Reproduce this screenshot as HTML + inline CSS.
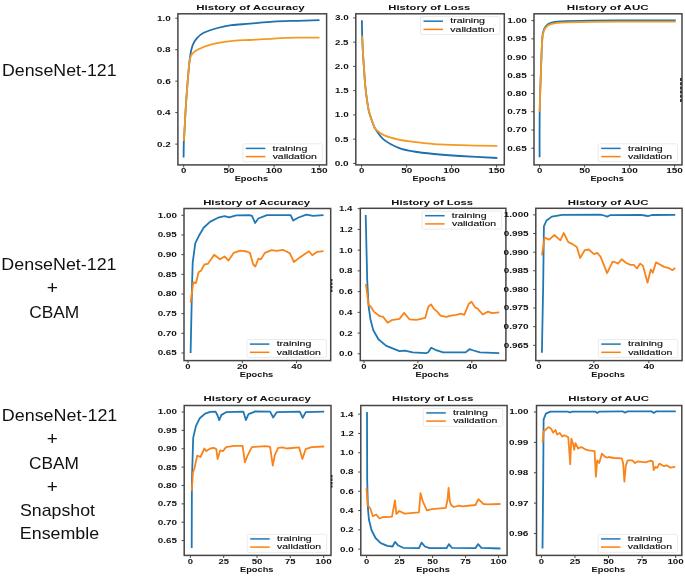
<!DOCTYPE html>
<html><head><meta charset="utf-8"><style>
html,body{margin:0;padding:0;background:#fff;}
svg{display:block;will-change:transform;}
#w{width:685px;height:577px;}
text{font-family:"Liberation Sans", sans-serif;}
</style></head><body><div id="w">
<svg width="685" height="577" viewBox="0 0 685 577">
<rect width="685" height="577" fill="#fff"/>
<clipPath id="c0"><rect x="177.9" y="13.8" width="148.70" height="151.10"/></clipPath>
<g clip-path="url(#c0)">
<path d="M183.60,157.50 C183.63,155.12 183.68,147.03 183.80,143.20 C183.92,139.37 184.02,139.70 184.30,134.50 C184.58,129.30 185.00,120.08 185.50,112.00 C186.00,103.92 186.57,95.03 187.30,86.00 C188.03,76.97 189.02,64.58 189.90,57.80 C190.78,51.02 191.45,48.55 192.60,45.30 C193.75,42.05 194.95,40.38 196.80,38.30 C198.65,36.22 200.23,34.52 203.70,32.80 C207.17,31.08 212.97,29.27 217.60,28.00 C222.23,26.73 226.10,25.92 231.50,25.20 C236.90,24.48 243.02,24.30 250.00,23.70 C256.98,23.10 265.62,22.08 273.40,21.60 C281.18,21.12 289.02,21.03 296.70,20.80 C304.38,20.57 315.70,20.30 319.50,20.20" fill="none" stroke="#1f70ac" stroke-width="1.8" stroke-linejoin="round" stroke-linecap="butt"/>
<path d="M183.80,141.00 C183.88,139.92 184.02,139.33 184.30,134.50 C184.58,129.67 185.00,120.08 185.50,112.00 C186.00,103.92 186.57,94.82 187.30,86.00 C188.03,77.18 188.78,64.73 189.90,59.10 C191.02,53.47 192.38,53.93 194.00,52.20 C195.62,50.47 196.82,49.97 199.60,48.70 C202.38,47.43 206.55,45.75 210.70,44.60 C214.85,43.45 219.88,42.50 224.50,41.80 C229.12,41.10 234.15,40.70 238.40,40.40 C242.65,40.10 244.17,40.30 250.00,40.00 C255.83,39.70 265.62,38.98 273.40,38.60 C281.18,38.22 289.02,37.85 296.70,37.70 C304.38,37.55 315.70,37.70 319.50,37.70" fill="none" stroke="#f49a22" stroke-width="1.8" stroke-linejoin="round" stroke-linecap="butt"/>
</g>
<rect x="177.90" y="13.80" width="148.70" height="151.10" fill="none" stroke="#464646" stroke-width="1.5"/>
<line x1="183.70" y1="164.90" x2="183.70" y2="167.50" stroke="#464646" stroke-width="1.0"/>
<text transform="translate(181.02,173.40) scale(1.4181,1)" font-size="6.8" font-weight="bold" fill="#111">0</text>
<line x1="228.90" y1="164.90" x2="228.90" y2="167.50" stroke="#464646" stroke-width="1.0"/>
<text transform="translate(223.48,173.40) scale(1.4493,1)" font-size="6.8" font-weight="bold" fill="#111">50</text>
<line x1="274.10" y1="164.90" x2="274.10" y2="167.50" stroke="#464646" stroke-width="1.0"/>
<text transform="translate(265.63,173.40) scale(1.4787,1)" font-size="6.8" font-weight="bold" fill="#111">100</text>
<line x1="319.30" y1="164.90" x2="319.30" y2="167.50" stroke="#464646" stroke-width="1.0"/>
<text transform="translate(310.83,173.40) scale(1.4787,1)" font-size="6.8" font-weight="bold" fill="#111">150</text>
<line x1="175.30" y1="144.10" x2="177.90" y2="144.10" stroke="#464646" stroke-width="1.0"/>
<text transform="translate(157.08,146.55) scale(1.4509,1)" font-size="6.8" font-weight="bold" fill="#111">0.2</text>
<line x1="175.30" y1="112.62" x2="177.90" y2="112.62" stroke="#464646" stroke-width="1.0"/>
<text transform="translate(156.67,115.08) scale(1.4578,1)" font-size="6.8" font-weight="bold" fill="#111">0.4</text>
<line x1="175.30" y1="81.15" x2="177.90" y2="81.15" stroke="#464646" stroke-width="1.0"/>
<text transform="translate(156.71,83.60) scale(1.4860,1)" font-size="6.8" font-weight="bold" fill="#111">0.6</text>
<line x1="175.30" y1="49.67" x2="177.90" y2="49.67" stroke="#464646" stroke-width="1.0"/>
<text transform="translate(156.76,52.12) scale(1.4753,1)" font-size="6.8" font-weight="bold" fill="#111">0.8</text>
<line x1="175.30" y1="18.20" x2="177.90" y2="18.20" stroke="#464646" stroke-width="1.0"/>
<text transform="translate(156.97,20.65) scale(1.4631,1)" font-size="6.8" font-weight="bold" fill="#111">1.0</text>
<text transform="translate(196.25,9.70) scale(1.6712,1)" font-size="6.9" font-weight="bold" fill="#111">History of Accuracy</text>
<text transform="translate(234.65,181.00) scale(1.4533,1)" font-size="6.4" font-weight="bold" fill="#111">Epochs</text>
<rect x="242.80" y="143.80" width="79.5" height="18.0" rx="1.5" fill="#fff" fill-opacity="0.8" stroke="#e6e6e6" stroke-width="0.8"/>
<line x1="245.80" y1="148.40" x2="265.30" y2="148.40" stroke="#1f77b4" stroke-width="1.5"/>
<line x1="245.80" y1="156.60" x2="265.30" y2="156.60" stroke="#ff7f0e" stroke-width="1.5"/>
<text transform="translate(272.54,150.60) scale(1.6554,1)" font-size="6.4" font-weight="normal" fill="#111" stroke="#111" stroke-width="0.121">training</text>
<text transform="translate(272.65,158.80) scale(1.6331,1)" font-size="6.4" font-weight="normal" fill="#111" stroke="#111" stroke-width="0.122">validation</text>
<clipPath id="c1"><rect x="355.8" y="13.8" width="148.50" height="151.10"/></clipPath>
<g clip-path="url(#c1)">
<path d="M361.90,20.30 C361.95,22.92 362.02,30.45 362.20,36.00 C362.38,41.55 362.63,47.20 363.00,53.60 C363.37,60.00 364.03,69.17 364.40,74.40 C364.77,79.63 364.82,81.08 365.20,85.00 C365.58,88.92 366.08,93.52 366.70,97.90 C367.32,102.28 367.78,106.83 368.90,111.30 C370.02,115.77 372.28,121.72 373.40,124.70 C374.52,127.68 373.87,126.72 375.60,129.20 C377.33,131.68 379.95,136.50 383.80,139.60 C387.65,142.70 393.73,145.82 398.70,147.80 C403.67,149.78 407.72,150.47 413.60,151.50 C419.48,152.53 426.27,153.25 434.00,154.00 C441.73,154.75 449.45,155.33 460.00,156.00 C470.55,156.67 491.08,157.67 497.30,158.00" fill="none" stroke="#1f70ac" stroke-width="1.8" stroke-linejoin="round" stroke-linecap="butt"/>
<path d="M361.90,35.60 C361.95,36.00 362.02,35.00 362.20,38.00 C362.38,41.00 362.63,47.53 363.00,53.60 C363.37,59.67 364.03,69.17 364.40,74.40 C364.77,79.63 364.82,81.08 365.20,85.00 C365.58,88.92 366.08,93.52 366.70,97.90 C367.32,102.28 367.78,106.83 368.90,111.30 C370.02,115.77 372.28,121.72 373.40,124.70 C374.52,127.68 373.87,127.47 375.60,129.20 C377.33,130.93 379.95,133.37 383.80,135.10 C387.65,136.83 393.73,138.48 398.70,139.60 C403.67,140.72 407.72,141.05 413.60,141.80 C419.48,142.55 426.27,143.53 434.00,144.10 C441.73,144.67 449.45,144.90 460.00,145.20 C470.55,145.50 491.08,145.78 497.30,145.90" fill="none" stroke="#f49a22" stroke-width="1.8" stroke-linejoin="round" stroke-linecap="butt"/>
</g>
<rect x="355.80" y="13.80" width="148.50" height="151.10" fill="none" stroke="#464646" stroke-width="1.5"/>
<line x1="361.60" y1="164.90" x2="361.60" y2="167.50" stroke="#464646" stroke-width="1.0"/>
<text transform="translate(358.92,173.40) scale(1.4181,1)" font-size="6.8" font-weight="bold" fill="#111">0</text>
<line x1="406.60" y1="164.90" x2="406.60" y2="167.50" stroke="#464646" stroke-width="1.0"/>
<text transform="translate(401.18,173.40) scale(1.4493,1)" font-size="6.8" font-weight="bold" fill="#111">50</text>
<line x1="451.60" y1="164.90" x2="451.60" y2="167.50" stroke="#464646" stroke-width="1.0"/>
<text transform="translate(443.13,173.40) scale(1.4787,1)" font-size="6.8" font-weight="bold" fill="#111">100</text>
<line x1="496.60" y1="164.90" x2="496.60" y2="167.50" stroke="#464646" stroke-width="1.0"/>
<text transform="translate(488.13,173.40) scale(1.4787,1)" font-size="6.8" font-weight="bold" fill="#111">150</text>
<line x1="353.20" y1="163.40" x2="355.80" y2="163.40" stroke="#464646" stroke-width="1.0"/>
<text transform="translate(334.65,165.85) scale(1.4866,1)" font-size="6.8" font-weight="bold" fill="#111">0.0</text>
<line x1="353.20" y1="139.15" x2="355.80" y2="139.15" stroke="#464646" stroke-width="1.0"/>
<text transform="translate(334.84,141.60) scale(1.4496,1)" font-size="6.8" font-weight="bold" fill="#111">0.5</text>
<line x1="353.20" y1="114.90" x2="355.80" y2="114.90" stroke="#464646" stroke-width="1.0"/>
<text transform="translate(334.87,117.35) scale(1.4631,1)" font-size="6.8" font-weight="bold" fill="#111">1.0</text>
<line x1="353.20" y1="90.65" x2="355.80" y2="90.65" stroke="#464646" stroke-width="1.0"/>
<text transform="translate(335.07,93.10) scale(1.4258,1)" font-size="6.8" font-weight="bold" fill="#111">1.5</text>
<line x1="353.20" y1="66.40" x2="355.80" y2="66.40" stroke="#464646" stroke-width="1.0"/>
<text transform="translate(334.80,68.85) scale(1.4708,1)" font-size="6.8" font-weight="bold" fill="#111">2.0</text>
<line x1="353.20" y1="42.15" x2="355.80" y2="42.15" stroke="#464646" stroke-width="1.0"/>
<text transform="translate(334.99,44.60) scale(1.4341,1)" font-size="6.8" font-weight="bold" fill="#111">2.5</text>
<line x1="353.20" y1="17.90" x2="355.80" y2="17.90" stroke="#464646" stroke-width="1.0"/>
<text transform="translate(334.90,20.35) scale(1.4597,1)" font-size="6.8" font-weight="bold" fill="#111">3.0</text>
<text transform="translate(388.37,9.70) scale(1.6301,1)" font-size="6.9" font-weight="bold" fill="#111">History of Loss</text>
<text transform="translate(412.45,181.00) scale(1.4533,1)" font-size="6.4" font-weight="bold" fill="#111">Epochs</text>
<rect x="420.50" y="16.60" width="79.5" height="18.0" rx="1.5" fill="#fff" fill-opacity="0.8" stroke="#e6e6e6" stroke-width="0.8"/>
<line x1="423.50" y1="21.20" x2="443.00" y2="21.20" stroke="#1f77b4" stroke-width="1.5"/>
<line x1="423.50" y1="29.40" x2="443.00" y2="29.40" stroke="#ff7f0e" stroke-width="1.5"/>
<text transform="translate(450.24,23.40) scale(1.6554,1)" font-size="6.4" font-weight="normal" fill="#111" stroke="#111" stroke-width="0.121">training</text>
<text transform="translate(450.35,31.60) scale(1.6331,1)" font-size="6.4" font-weight="normal" fill="#111" stroke="#111" stroke-width="0.122">validation</text>
<clipPath id="c2"><rect x="534.0" y="13.8" width="148.00" height="151.10"/></clipPath>
<g clip-path="url(#c2)">
<path d="M539.60,157.30 C539.62,149.75 539.48,126.22 539.70,112.00 C539.92,97.78 540.52,83.47 540.90,72.00 C541.28,60.53 541.65,49.73 542.00,43.20 C542.35,36.67 542.40,35.57 543.00,32.80 C543.60,30.03 544.30,28.25 545.60,26.60 C546.90,24.95 548.20,23.77 550.80,22.90 C553.40,22.03 554.67,21.78 561.20,21.40 C567.73,21.02 576.87,20.77 590.00,20.60 C603.13,20.43 625.72,20.45 640.00,20.40 C654.28,20.35 669.75,20.32 675.70,20.30" fill="none" stroke="#1f70ac" stroke-width="1.8" stroke-linejoin="round" stroke-linecap="butt"/>
<path d="M539.60,111.80 C539.82,105.25 540.50,83.80 540.90,72.50 C541.30,61.20 541.65,50.42 542.00,44.00 C542.35,37.58 542.40,36.70 543.00,34.00 C543.60,31.30 544.30,29.43 545.60,27.80 C546.90,26.17 548.20,25.07 550.80,24.20 C553.40,23.33 554.67,23.00 561.20,22.60 C567.73,22.20 576.87,21.95 590.00,21.80 C603.13,21.65 625.72,21.72 640.00,21.70 C654.28,21.68 669.75,21.70 675.70,21.70" fill="none" stroke="#f49a22" stroke-width="1.8" stroke-linejoin="round" stroke-linecap="butt"/>
</g>
<rect x="534.00" y="13.80" width="148.00" height="151.10" fill="none" stroke="#464646" stroke-width="1.5"/>
<line x1="539.60" y1="164.90" x2="539.60" y2="167.50" stroke="#464646" stroke-width="1.0"/>
<text transform="translate(536.92,173.40) scale(1.4181,1)" font-size="6.8" font-weight="bold" fill="#111">0</text>
<line x1="584.60" y1="164.90" x2="584.60" y2="167.50" stroke="#464646" stroke-width="1.0"/>
<text transform="translate(579.18,173.40) scale(1.4493,1)" font-size="6.8" font-weight="bold" fill="#111">50</text>
<line x1="629.60" y1="164.90" x2="629.60" y2="167.50" stroke="#464646" stroke-width="1.0"/>
<text transform="translate(621.13,173.40) scale(1.4787,1)" font-size="6.8" font-weight="bold" fill="#111">100</text>
<line x1="674.60" y1="164.90" x2="674.60" y2="167.50" stroke="#464646" stroke-width="1.0"/>
<text transform="translate(666.13,173.40) scale(1.4787,1)" font-size="6.8" font-weight="bold" fill="#111">150</text>
<line x1="531.40" y1="148.20" x2="534.00" y2="148.20" stroke="#464646" stroke-width="1.0"/>
<text transform="translate(507.28,150.65) scale(1.4722,1)" font-size="6.8" font-weight="bold" fill="#111">0.65</text>
<line x1="531.40" y1="129.97" x2="534.00" y2="129.97" stroke="#464646" stroke-width="1.0"/>
<text transform="translate(507.09,132.42) scale(1.4983,1)" font-size="6.8" font-weight="bold" fill="#111">0.70</text>
<line x1="531.40" y1="111.74" x2="534.00" y2="111.74" stroke="#464646" stroke-width="1.0"/>
<text transform="translate(507.28,114.19) scale(1.4722,1)" font-size="6.8" font-weight="bold" fill="#111">0.75</text>
<line x1="531.40" y1="93.51" x2="534.00" y2="93.51" stroke="#464646" stroke-width="1.0"/>
<text transform="translate(507.09,95.96) scale(1.4983,1)" font-size="6.8" font-weight="bold" fill="#111">0.80</text>
<line x1="531.40" y1="75.28" x2="534.00" y2="75.28" stroke="#464646" stroke-width="1.0"/>
<text transform="translate(507.28,77.73) scale(1.4722,1)" font-size="6.8" font-weight="bold" fill="#111">0.85</text>
<line x1="531.40" y1="57.05" x2="534.00" y2="57.05" stroke="#464646" stroke-width="1.0"/>
<text transform="translate(507.09,59.50) scale(1.4983,1)" font-size="6.8" font-weight="bold" fill="#111">0.90</text>
<line x1="531.40" y1="38.83" x2="534.00" y2="38.83" stroke="#464646" stroke-width="1.0"/>
<text transform="translate(507.28,41.28) scale(1.4722,1)" font-size="6.8" font-weight="bold" fill="#111">0.95</text>
<line x1="531.40" y1="20.60" x2="534.00" y2="20.60" stroke="#464646" stroke-width="1.0"/>
<text transform="translate(507.30,23.05) scale(1.4820,1)" font-size="6.8" font-weight="bold" fill="#111">1.00</text>
<text transform="translate(566.85,9.70) scale(1.6756,1)" font-size="6.9" font-weight="bold" fill="#111">History of AUC</text>
<text transform="translate(590.40,181.00) scale(1.4533,1)" font-size="6.4" font-weight="bold" fill="#111">Epochs</text>
<rect x="598.20" y="143.80" width="79.5" height="18.0" rx="1.5" fill="#fff" fill-opacity="0.8" stroke="#e6e6e6" stroke-width="0.8"/>
<line x1="601.20" y1="148.40" x2="620.70" y2="148.40" stroke="#1f77b4" stroke-width="1.5"/>
<line x1="601.20" y1="156.60" x2="620.70" y2="156.60" stroke="#ff7f0e" stroke-width="1.5"/>
<text transform="translate(627.94,150.60) scale(1.6554,1)" font-size="6.4" font-weight="normal" fill="#111" stroke="#111" stroke-width="0.121">training</text>
<text transform="translate(628.05,158.80) scale(1.6331,1)" font-size="6.4" font-weight="normal" fill="#111" stroke="#111" stroke-width="0.122">validation</text>
<clipPath id="c3"><rect x="184.0" y="208.5" width="146.70" height="152.10"/></clipPath>
<g clip-path="url(#c3)">
<path d="M190.60,353.00 L192.10,283.00 L192.70,262.60 L195.30,243.10 L199.20,235.30 L203.80,227.50 L210.30,221.60 L218.10,217.70 L224.60,216.10 L229.10,217.40 L236.30,215.40 L249.30,215.10 L252.00,215.80 L255.10,223.00 L258.30,218.50 L266.90,215.20 L290.60,215.20 L293.20,220.50 L298.50,217.50 L306.40,214.60 L313.00,215.90 L323.50,215.20" fill="none" stroke="#1f77b4" stroke-width="1.8" stroke-linejoin="round" stroke-linecap="butt"/>
<path d="M190.60,302.70 L193.30,282.50 L196.00,283.00 L198.60,272.30 L201.20,270.40 L204.40,264.50 L207.70,263.90 L214.20,254.80 L220.00,259.30 L224.60,256.40 L228.50,260.60 L233.70,252.80 L240.20,250.60 L246.70,251.50 L249.90,252.80 L253.20,264.50 L255.40,266.50 L258.30,258.70 L260.90,259.40 L264.90,252.80 L271.50,250.10 L276.70,250.80 L282.70,249.90 L286.60,251.50 L289.90,253.40 L293.90,262.00 L299.80,257.40 L309.00,251.20 L312.30,255.20 L316.90,251.90 L323.50,251.20" fill="none" stroke="#f8841a" stroke-width="1.8" stroke-linejoin="round" stroke-linecap="butt"/>
</g>
<rect x="184.00" y="208.50" width="146.70" height="152.10" fill="none" stroke="#464646" stroke-width="1.5"/>
<line x1="188.00" y1="360.60" x2="188.00" y2="363.20" stroke="#464646" stroke-width="1.0"/>
<text transform="translate(185.37,369.10) scale(1.3915,1)" font-size="6.8" font-weight="bold" fill="#111">0</text>
<line x1="242.30" y1="360.60" x2="242.30" y2="363.20" stroke="#464646" stroke-width="1.0"/>
<text transform="translate(236.93,369.10) scale(1.4290,1)" font-size="6.8" font-weight="bold" fill="#111">20</text>
<line x1="296.60" y1="360.60" x2="296.60" y2="363.20" stroke="#464646" stroke-width="1.0"/>
<text transform="translate(291.31,369.10) scale(1.4329,1)" font-size="6.8" font-weight="bold" fill="#111">40</text>
<line x1="181.40" y1="353.00" x2="184.00" y2="353.00" stroke="#464646" stroke-width="1.0"/>
<text transform="translate(157.64,355.45) scale(1.4446,1)" font-size="6.8" font-weight="bold" fill="#111">0.65</text>
<line x1="181.40" y1="333.33" x2="184.00" y2="333.33" stroke="#464646" stroke-width="1.0"/>
<text transform="translate(157.45,335.78) scale(1.4702,1)" font-size="6.8" font-weight="bold" fill="#111">0.70</text>
<line x1="181.40" y1="313.66" x2="184.00" y2="313.66" stroke="#464646" stroke-width="1.0"/>
<text transform="translate(157.64,316.11) scale(1.4446,1)" font-size="6.8" font-weight="bold" fill="#111">0.75</text>
<line x1="181.40" y1="293.99" x2="184.00" y2="293.99" stroke="#464646" stroke-width="1.0"/>
<text transform="translate(157.45,296.44) scale(1.4702,1)" font-size="6.8" font-weight="bold" fill="#111">0.80</text>
<line x1="181.40" y1="274.32" x2="184.00" y2="274.32" stroke="#464646" stroke-width="1.0"/>
<text transform="translate(157.64,276.77) scale(1.4446,1)" font-size="6.8" font-weight="bold" fill="#111">0.85</text>
<line x1="181.40" y1="254.65" x2="184.00" y2="254.65" stroke="#464646" stroke-width="1.0"/>
<text transform="translate(157.45,257.10) scale(1.4702,1)" font-size="6.8" font-weight="bold" fill="#111">0.90</text>
<line x1="181.40" y1="234.97" x2="184.00" y2="234.97" stroke="#464646" stroke-width="1.0"/>
<text transform="translate(157.64,237.42) scale(1.4446,1)" font-size="6.8" font-weight="bold" fill="#111">0.95</text>
<line x1="181.40" y1="215.30" x2="184.00" y2="215.30" stroke="#464646" stroke-width="1.0"/>
<text transform="translate(157.66,217.75) scale(1.4542,1)" font-size="6.8" font-weight="bold" fill="#111">1.00</text>
<text transform="translate(203.16,204.70) scale(1.4781,1)" font-size="7.7" font-weight="bold" fill="#111">History of Accuracy</text>
<text transform="translate(239.75,376.70) scale(1.4533,1)" font-size="6.4" font-weight="bold" fill="#111">Epochs</text>
<rect x="246.90" y="339.50" width="79.5" height="18.0" rx="1.5" fill="#fff" fill-opacity="0.8" stroke="#e6e6e6" stroke-width="0.8"/>
<line x1="249.90" y1="344.10" x2="269.40" y2="344.10" stroke="#1f77b4" stroke-width="1.5"/>
<line x1="249.90" y1="352.30" x2="269.40" y2="352.30" stroke="#ff7f0e" stroke-width="1.5"/>
<text transform="translate(276.64,346.30) scale(1.6554,1)" font-size="6.4" font-weight="normal" fill="#111" stroke="#111" stroke-width="0.121">training</text>
<text transform="translate(276.75,354.50) scale(1.6331,1)" font-size="6.4" font-weight="normal" fill="#111" stroke="#111" stroke-width="0.122">validation</text>
<clipPath id="c4"><rect x="360.3" y="208.3" width="145.60" height="152.30"/></clipPath>
<g clip-path="url(#c4)">
<path d="M365.70,215.00 L367.20,280.00 L368.60,306.30 L370.50,319.50 L373.20,330.00 L378.40,339.30 L386.30,345.90 L399.50,351.10 L404.80,350.70 L412.70,352.40 L425.90,353.10 L428.00,352.50 L431.20,347.80 L435.30,349.80 L443.20,352.40 L465.60,352.40 L469.50,349.20 L473.50,350.50 L480.00,352.40 L499.20,353.10" fill="none" stroke="#1f77b4" stroke-width="1.8" stroke-linejoin="round" stroke-linecap="butt"/>
<path d="M365.90,284.00 L368.60,305.00 L370.50,306.30 L373.80,311.60 L379.80,316.20 L383.10,316.90 L387.70,322.80 L391.60,320.20 L399.50,318.90 L404.10,312.90 L409.40,319.30 L416.60,319.80 L425.20,317.90 L428.50,306.30 L431.10,304.40 L434.00,309.00 L437.20,311.60 L440.50,315.60 L446.50,316.90 L451.10,315.60 L456.30,314.90 L461.00,313.60 L464.20,314.90 L468.90,303.70 L471.50,301.70 L475.40,307.70 L477.40,308.30 L482.70,314.50 L488.00,311.60 L491.90,313.20 L499.20,312.30" fill="none" stroke="#f8841a" stroke-width="1.8" stroke-linejoin="round" stroke-linecap="butt"/>
</g>
<rect x="360.30" y="208.30" width="145.60" height="152.30" fill="none" stroke="#464646" stroke-width="1.5"/>
<line x1="364.00" y1="360.60" x2="364.00" y2="363.20" stroke="#464646" stroke-width="1.0"/>
<text transform="translate(361.37,369.10) scale(1.3915,1)" font-size="6.8" font-weight="bold" fill="#111">0</text>
<line x1="417.90" y1="360.60" x2="417.90" y2="363.20" stroke="#464646" stroke-width="1.0"/>
<text transform="translate(412.53,369.10) scale(1.4290,1)" font-size="6.8" font-weight="bold" fill="#111">20</text>
<line x1="471.80" y1="360.60" x2="471.80" y2="363.20" stroke="#464646" stroke-width="1.0"/>
<text transform="translate(466.51,369.10) scale(1.4329,1)" font-size="6.8" font-weight="bold" fill="#111">40</text>
<line x1="357.70" y1="353.80" x2="360.30" y2="353.80" stroke="#464646" stroke-width="1.0"/>
<text transform="translate(338.91,356.25) scale(1.4587,1)" font-size="6.8" font-weight="bold" fill="#111">0.0</text>
<line x1="357.70" y1="333.07" x2="360.30" y2="333.07" stroke="#464646" stroke-width="1.0"/>
<text transform="translate(339.23,335.52) scale(1.4237,1)" font-size="6.8" font-weight="bold" fill="#111">0.2</text>
<line x1="357.70" y1="312.34" x2="360.30" y2="312.34" stroke="#464646" stroke-width="1.0"/>
<text transform="translate(338.83,314.79) scale(1.4305,1)" font-size="6.8" font-weight="bold" fill="#111">0.4</text>
<line x1="357.70" y1="291.61" x2="360.30" y2="291.61" stroke="#464646" stroke-width="1.0"/>
<text transform="translate(338.86,294.06) scale(1.4581,1)" font-size="6.8" font-weight="bold" fill="#111">0.6</text>
<line x1="357.70" y1="270.88" x2="360.30" y2="270.88" stroke="#464646" stroke-width="1.0"/>
<text transform="translate(338.91,273.33) scale(1.4476,1)" font-size="6.8" font-weight="bold" fill="#111">0.8</text>
<line x1="357.70" y1="250.16" x2="360.30" y2="250.16" stroke="#464646" stroke-width="1.0"/>
<text transform="translate(339.12,252.61) scale(1.4356,1)" font-size="6.8" font-weight="bold" fill="#111">1.0</text>
<line x1="357.70" y1="229.43" x2="360.30" y2="229.43" stroke="#464646" stroke-width="1.0"/>
<text transform="translate(339.45,231.88) scale(1.4001,1)" font-size="6.8" font-weight="bold" fill="#111">1.2</text>
<line x1="357.70" y1="208.70" x2="360.30" y2="208.70" stroke="#464646" stroke-width="1.0"/>
<text transform="translate(339.04,211.15) scale(1.4076,1)" font-size="6.8" font-weight="bold" fill="#111">1.4</text>
<text transform="translate(391.27,204.70) scale(1.4607,1)" font-size="7.7" font-weight="bold" fill="#111">History of Loss</text>
<text transform="translate(415.50,376.70) scale(1.4533,1)" font-size="6.4" font-weight="bold" fill="#111">Epochs</text>
<rect x="422.10" y="211.10" width="79.5" height="18.0" rx="1.5" fill="#fff" fill-opacity="0.8" stroke="#e6e6e6" stroke-width="0.8"/>
<line x1="425.10" y1="215.70" x2="444.60" y2="215.70" stroke="#1f77b4" stroke-width="1.5"/>
<line x1="425.10" y1="223.90" x2="444.60" y2="223.90" stroke="#ff7f0e" stroke-width="1.5"/>
<text transform="translate(451.84,217.90) scale(1.6554,1)" font-size="6.4" font-weight="normal" fill="#111" stroke="#111" stroke-width="0.121">training</text>
<text transform="translate(451.95,226.10) scale(1.6331,1)" font-size="6.4" font-weight="normal" fill="#111" stroke="#111" stroke-width="0.122">validation</text>
<clipPath id="c5"><rect x="535.8" y="208.3" width="146.30" height="152.30"/></clipPath>
<g clip-path="url(#c5)">
<path d="M541.90,352.80 L543.20,284.00 L543.90,226.40 L546.50,220.50 L551.80,216.60 L562.30,214.80 L600.50,214.60 L604.00,215.50 L607.10,216.60 L610.00,215.20 L640.00,214.80 L645.00,215.50 L648.00,216.20 L652.00,215.00 L675.20,214.80" fill="none" stroke="#1f77b4" stroke-width="1.8" stroke-linejoin="round" stroke-linecap="butt"/>
<path d="M541.90,255.40 L544.60,237.60 L549.20,239.60 L554.40,235.00 L560.40,240.30 L563.70,233.00 L568.30,242.20 L571.60,243.60 L576.80,246.90 L580.10,258.00 L584.70,250.20 L588.70,249.50 L594.00,254.10 L597.20,252.80 L600.50,256.70 L607.10,273.20 L612.60,261.60 L615.20,262.30 L617.90,263.60 L621.80,259.20 L625.80,262.70 L630.40,264.90 L633.70,264.90 L637.00,268.50 L640.20,263.60 L642.90,265.60 L647.50,282.70 L650.80,269.50 L652.80,272.80 L656.00,262.30 L664.00,266.90 L669.20,268.20 L672.50,270.20 L675.20,267.90" fill="none" stroke="#f8841a" stroke-width="1.8" stroke-linejoin="round" stroke-linecap="butt"/>
</g>
<rect x="535.80" y="208.30" width="146.30" height="152.30" fill="none" stroke="#464646" stroke-width="1.5"/>
<line x1="539.00" y1="360.60" x2="539.00" y2="363.20" stroke="#464646" stroke-width="1.0"/>
<text transform="translate(536.37,369.10) scale(1.3915,1)" font-size="6.8" font-weight="bold" fill="#111">0</text>
<line x1="593.90" y1="360.60" x2="593.90" y2="363.20" stroke="#464646" stroke-width="1.0"/>
<text transform="translate(588.53,369.10) scale(1.4290,1)" font-size="6.8" font-weight="bold" fill="#111">20</text>
<line x1="648.80" y1="360.60" x2="648.80" y2="363.20" stroke="#464646" stroke-width="1.0"/>
<text transform="translate(643.51,369.10) scale(1.4329,1)" font-size="6.8" font-weight="bold" fill="#111">40</text>
<line x1="533.20" y1="345.30" x2="535.80" y2="345.30" stroke="#464646" stroke-width="1.0"/>
<text transform="translate(503.78,347.75) scale(1.4566,1)" font-size="6.8" font-weight="bold" fill="#111">0.965</text>
<line x1="533.20" y1="326.67" x2="535.80" y2="326.67" stroke="#464646" stroke-width="1.0"/>
<text transform="translate(503.60,329.12) scale(1.4765,1)" font-size="6.8" font-weight="bold" fill="#111">0.970</text>
<line x1="533.20" y1="308.04" x2="535.80" y2="308.04" stroke="#464646" stroke-width="1.0"/>
<text transform="translate(503.78,310.49) scale(1.4566,1)" font-size="6.8" font-weight="bold" fill="#111">0.975</text>
<line x1="533.20" y1="289.41" x2="535.80" y2="289.41" stroke="#464646" stroke-width="1.0"/>
<text transform="translate(503.60,291.86) scale(1.4765,1)" font-size="6.8" font-weight="bold" fill="#111">0.980</text>
<line x1="533.20" y1="270.78" x2="535.80" y2="270.78" stroke="#464646" stroke-width="1.0"/>
<text transform="translate(503.78,273.23) scale(1.4566,1)" font-size="6.8" font-weight="bold" fill="#111">0.985</text>
<line x1="533.20" y1="252.16" x2="535.80" y2="252.16" stroke="#464646" stroke-width="1.0"/>
<text transform="translate(503.60,254.60) scale(1.4765,1)" font-size="6.8" font-weight="bold" fill="#111">0.990</text>
<line x1="533.20" y1="233.53" x2="535.80" y2="233.53" stroke="#464646" stroke-width="1.0"/>
<text transform="translate(503.78,235.98) scale(1.4566,1)" font-size="6.8" font-weight="bold" fill="#111">0.995</text>
<line x1="533.20" y1="214.90" x2="535.80" y2="214.90" stroke="#464646" stroke-width="1.0"/>
<text transform="translate(503.81,217.35) scale(1.4642,1)" font-size="6.8" font-weight="bold" fill="#111">1.000</text>
<text transform="translate(567.76,204.70) scale(1.4848,1)" font-size="7.7" font-weight="bold" fill="#111">History of AUC</text>
<text transform="translate(591.35,376.70) scale(1.4533,1)" font-size="6.4" font-weight="bold" fill="#111">Epochs</text>
<rect x="598.30" y="339.50" width="79.5" height="18.0" rx="1.5" fill="#fff" fill-opacity="0.8" stroke="#e6e6e6" stroke-width="0.8"/>
<line x1="601.30" y1="344.10" x2="620.80" y2="344.10" stroke="#1f77b4" stroke-width="1.5"/>
<line x1="601.30" y1="352.30" x2="620.80" y2="352.30" stroke="#ff7f0e" stroke-width="1.5"/>
<text transform="translate(628.04,346.30) scale(1.6554,1)" font-size="6.4" font-weight="normal" fill="#111" stroke="#111" stroke-width="0.121">training</text>
<text transform="translate(628.15,354.50) scale(1.6331,1)" font-size="6.4" font-weight="normal" fill="#111" stroke="#111" stroke-width="0.122">validation</text>
<clipPath id="c6"><rect x="184.2" y="405.5" width="146.80" height="149.90"/></clipPath>
<g clip-path="url(#c6)">
<path d="M191.70,548.00 L191.90,481.00 L193.20,437.90 L195.90,426.10 L199.80,418.20 L205.10,413.60 L210.30,411.80 L215.60,411.60 L217.60,415.50 L219.20,420.10 L221.50,414.90 L226.10,412.20 L243.30,411.60 L245.90,420.10 L248.50,414.20 L253.80,412.20 L255.00,411.30 L270.10,411.60 L273.20,417.50 L276.70,412.20 L299.80,411.60 L302.70,417.90 L305.70,412.20 L324.20,411.60" fill="none" stroke="#1f77b4" stroke-width="1.8" stroke-linejoin="round" stroke-linecap="butt"/>
<path d="M191.70,491.00 L193.00,472.20 L194.50,468.20 L197.20,455.70 L200.50,457.00 L204.40,448.50 L206.40,451.10 L210.30,448.50 L213.60,447.80 L216.30,449.10 L217.60,459.00 L220.20,450.40 L222.90,451.10 L226.10,447.10 L234.00,445.80 L242.60,445.80 L244.90,462.30 L247.20,456.40 L251.80,447.10 L255.00,446.90 L265.50,446.10 L270.10,446.90 L272.80,465.60 L274.80,455.00 L278.10,447.80 L282.70,447.40 L286.60,448.50 L299.10,447.40 L302.40,459.00 L305.70,449.10 L311.60,447.10 L324.20,446.50" fill="none" stroke="#f8841a" stroke-width="1.8" stroke-linejoin="round" stroke-linecap="butt"/>
</g>
<rect x="184.20" y="405.50" width="146.80" height="149.90" fill="none" stroke="#464646" stroke-width="1.5"/>
<line x1="190.40" y1="555.40" x2="190.40" y2="558.00" stroke="#464646" stroke-width="1.0"/>
<text transform="translate(187.77,563.90) scale(1.3915,1)" font-size="6.8" font-weight="bold" fill="#111">0</text>
<line x1="223.70" y1="555.40" x2="223.70" y2="558.00" stroke="#464646" stroke-width="1.0"/>
<text transform="translate(218.43,563.90) scale(1.3836,1)" font-size="6.8" font-weight="bold" fill="#111">25</text>
<line x1="257.00" y1="555.40" x2="257.00" y2="558.00" stroke="#464646" stroke-width="1.0"/>
<text transform="translate(251.68,563.90) scale(1.4221,1)" font-size="6.8" font-weight="bold" fill="#111">50</text>
<line x1="290.30" y1="555.40" x2="290.30" y2="558.00" stroke="#464646" stroke-width="1.0"/>
<text transform="translate(285.01,563.90) scale(1.3840,1)" font-size="6.8" font-weight="bold" fill="#111">75</text>
<line x1="323.60" y1="555.40" x2="323.60" y2="558.00" stroke="#464646" stroke-width="1.0"/>
<text transform="translate(315.29,563.90) scale(1.4510,1)" font-size="6.8" font-weight="bold" fill="#111">100</text>
<line x1="181.60" y1="540.60" x2="184.20" y2="540.60" stroke="#464646" stroke-width="1.0"/>
<text transform="translate(157.84,543.05) scale(1.4446,1)" font-size="6.8" font-weight="bold" fill="#111">0.65</text>
<line x1="181.60" y1="522.23" x2="184.20" y2="522.23" stroke="#464646" stroke-width="1.0"/>
<text transform="translate(157.65,524.68) scale(1.4702,1)" font-size="6.8" font-weight="bold" fill="#111">0.70</text>
<line x1="181.60" y1="503.86" x2="184.20" y2="503.86" stroke="#464646" stroke-width="1.0"/>
<text transform="translate(157.84,506.31) scale(1.4446,1)" font-size="6.8" font-weight="bold" fill="#111">0.75</text>
<line x1="181.60" y1="485.49" x2="184.20" y2="485.49" stroke="#464646" stroke-width="1.0"/>
<text transform="translate(157.65,487.94) scale(1.4702,1)" font-size="6.8" font-weight="bold" fill="#111">0.80</text>
<line x1="181.60" y1="467.12" x2="184.20" y2="467.12" stroke="#464646" stroke-width="1.0"/>
<text transform="translate(157.84,469.57) scale(1.4446,1)" font-size="6.8" font-weight="bold" fill="#111">0.85</text>
<line x1="181.60" y1="448.75" x2="184.20" y2="448.75" stroke="#464646" stroke-width="1.0"/>
<text transform="translate(157.65,451.19) scale(1.4702,1)" font-size="6.8" font-weight="bold" fill="#111">0.90</text>
<line x1="181.60" y1="430.37" x2="184.20" y2="430.37" stroke="#464646" stroke-width="1.0"/>
<text transform="translate(157.84,432.82) scale(1.4446,1)" font-size="6.8" font-weight="bold" fill="#111">0.95</text>
<line x1="181.60" y1="412.00" x2="184.20" y2="412.00" stroke="#464646" stroke-width="1.0"/>
<text transform="translate(157.86,414.45) scale(1.4542,1)" font-size="6.8" font-weight="bold" fill="#111">1.00</text>
<text transform="translate(203.56,401.30) scale(1.5032,1)" font-size="7.6" font-weight="bold" fill="#111">History of Accuracy</text>
<text transform="translate(240.00,571.50) scale(1.4533,1)" font-size="6.4" font-weight="bold" fill="#111">Epochs</text>
<rect x="247.20" y="534.30" width="79.5" height="18.0" rx="1.5" fill="#fff" fill-opacity="0.8" stroke="#e6e6e6" stroke-width="0.8"/>
<line x1="250.20" y1="538.90" x2="269.70" y2="538.90" stroke="#1f77b4" stroke-width="1.5"/>
<line x1="250.20" y1="547.10" x2="269.70" y2="547.10" stroke="#ff7f0e" stroke-width="1.5"/>
<text transform="translate(276.94,541.10) scale(1.6554,1)" font-size="6.4" font-weight="normal" fill="#111" stroke="#111" stroke-width="0.121">training</text>
<text transform="translate(277.05,549.30) scale(1.6331,1)" font-size="6.4" font-weight="normal" fill="#111" stroke="#111" stroke-width="0.122">validation</text>
<clipPath id="c7"><rect x="360.8" y="405.5" width="146.30" height="149.90"/></clipPath>
<g clip-path="url(#c7)">
<path d="M367.00,412.00 L367.20,480.00 L367.90,507.70 L368.90,519.50 L371.50,530.00 L375.50,538.00 L380.80,543.20 L387.30,545.90 L392.60,546.50 L395.00,541.90 L397.90,545.20 L403.10,547.80 L419.00,548.20 L421.60,542.60 L424.90,546.50 L429.50,548.20 L446.50,548.20 L448.90,544.10 L451.80,547.80 L475.50,548.20 L478.10,544.10 L481.40,547.80 L500.50,548.50" fill="none" stroke="#1f77b4" stroke-width="1.8" stroke-linejoin="round" stroke-linecap="butt"/>
<path d="M366.50,487.90 L367.60,505.00 L370.20,508.30 L372.90,516.20 L376.10,514.50 L379.40,518.50 L383.40,516.90 L387.30,517.10 L392.00,516.60 L395.00,500.40 L396.30,514.00 L399.20,511.00 L404.50,513.60 L419.00,512.30 L420.50,493.20 L422.90,501.70 L426.90,510.30 L432.00,509.20 L445.80,507.90 L447.50,499.80 L448.60,487.90 L449.80,501.10 L451.10,505.00 L453.70,507.00 L459.00,505.70 L462.30,506.30 L475.50,505.00 L478.40,499.10 L483.40,504.00 L487.30,504.40 L500.50,504.00" fill="none" stroke="#f8841a" stroke-width="1.8" stroke-linejoin="round" stroke-linecap="butt"/>
</g>
<rect x="360.80" y="405.50" width="146.30" height="149.90" fill="none" stroke="#464646" stroke-width="1.5"/>
<line x1="366.60" y1="555.40" x2="366.60" y2="558.00" stroke="#464646" stroke-width="1.0"/>
<text transform="translate(363.97,563.90) scale(1.3915,1)" font-size="6.8" font-weight="bold" fill="#111">0</text>
<line x1="399.60" y1="555.40" x2="399.60" y2="558.00" stroke="#464646" stroke-width="1.0"/>
<text transform="translate(394.33,563.90) scale(1.3836,1)" font-size="6.8" font-weight="bold" fill="#111">25</text>
<line x1="432.60" y1="555.40" x2="432.60" y2="558.00" stroke="#464646" stroke-width="1.0"/>
<text transform="translate(427.28,563.90) scale(1.4221,1)" font-size="6.8" font-weight="bold" fill="#111">50</text>
<line x1="465.60" y1="555.40" x2="465.60" y2="558.00" stroke="#464646" stroke-width="1.0"/>
<text transform="translate(460.31,563.90) scale(1.3840,1)" font-size="6.8" font-weight="bold" fill="#111">75</text>
<line x1="498.60" y1="555.40" x2="498.60" y2="558.00" stroke="#464646" stroke-width="1.0"/>
<text transform="translate(490.29,563.90) scale(1.4510,1)" font-size="6.8" font-weight="bold" fill="#111">100</text>
<line x1="358.20" y1="549.10" x2="360.80" y2="549.10" stroke="#464646" stroke-width="1.0"/>
<text transform="translate(339.91,551.55) scale(1.4587,1)" font-size="6.8" font-weight="bold" fill="#111">0.0</text>
<line x1="358.20" y1="529.83" x2="360.80" y2="529.83" stroke="#464646" stroke-width="1.0"/>
<text transform="translate(340.23,532.28) scale(1.4237,1)" font-size="6.8" font-weight="bold" fill="#111">0.2</text>
<line x1="358.20" y1="510.56" x2="360.80" y2="510.56" stroke="#464646" stroke-width="1.0"/>
<text transform="translate(339.83,513.01) scale(1.4305,1)" font-size="6.8" font-weight="bold" fill="#111">0.4</text>
<line x1="358.20" y1="491.29" x2="360.80" y2="491.29" stroke="#464646" stroke-width="1.0"/>
<text transform="translate(339.86,493.74) scale(1.4581,1)" font-size="6.8" font-weight="bold" fill="#111">0.6</text>
<line x1="358.20" y1="472.02" x2="360.80" y2="472.02" stroke="#464646" stroke-width="1.0"/>
<text transform="translate(339.91,474.47) scale(1.4476,1)" font-size="6.8" font-weight="bold" fill="#111">0.8</text>
<line x1="358.20" y1="452.75" x2="360.80" y2="452.75" stroke="#464646" stroke-width="1.0"/>
<text transform="translate(340.12,455.19) scale(1.4356,1)" font-size="6.8" font-weight="bold" fill="#111">1.0</text>
<line x1="358.20" y1="433.47" x2="360.80" y2="433.47" stroke="#464646" stroke-width="1.0"/>
<text transform="translate(340.45,435.92) scale(1.4001,1)" font-size="6.8" font-weight="bold" fill="#111">1.2</text>
<line x1="358.20" y1="414.20" x2="360.80" y2="414.20" stroke="#464646" stroke-width="1.0"/>
<text transform="translate(340.04,416.65) scale(1.4076,1)" font-size="6.8" font-weight="bold" fill="#111">1.4</text>
<text transform="translate(392.07,401.30) scale(1.4726,1)" font-size="7.6" font-weight="bold" fill="#111">History of Loss</text>
<text transform="translate(416.35,571.50) scale(1.4533,1)" font-size="6.4" font-weight="bold" fill="#111">Epochs</text>
<rect x="423.30" y="408.30" width="79.5" height="18.0" rx="1.5" fill="#fff" fill-opacity="0.8" stroke="#e6e6e6" stroke-width="0.8"/>
<line x1="426.30" y1="412.90" x2="445.80" y2="412.90" stroke="#1f77b4" stroke-width="1.5"/>
<line x1="426.30" y1="421.10" x2="445.80" y2="421.10" stroke="#ff7f0e" stroke-width="1.5"/>
<text transform="translate(453.04,415.10) scale(1.6554,1)" font-size="6.4" font-weight="normal" fill="#111" stroke="#111" stroke-width="0.121">training</text>
<text transform="translate(453.15,423.30) scale(1.6331,1)" font-size="6.4" font-weight="normal" fill="#111" stroke="#111" stroke-width="0.122">validation</text>
<clipPath id="c8"><rect x="536.5" y="405.5" width="145.30" height="149.90"/></clipPath>
<g clip-path="url(#c8)">
<path d="M542.50,548.60 L543.20,481.00 L543.60,419.50 L545.90,413.60 L550.50,411.60 L567.60,411.60 L570.00,412.50 L572.20,411.60 L595.30,411.60 L597.20,412.90 L599.20,411.60 L622.50,411.30 L625.10,412.60 L627.70,411.30 L651.40,411.30 L653.70,412.90 L656.70,411.30 L675.80,411.30" fill="none" stroke="#1f77b4" stroke-width="1.8" stroke-linejoin="round" stroke-linecap="butt"/>
<path d="M542.60,442.50 L543.60,431.30 L545.20,430.00 L548.50,427.10 L551.10,428.70 L553.10,432.70 L555.50,430.00 L557.10,434.60 L559.70,432.90 L562.30,436.60 L564.30,435.30 L568.30,437.30 L570.20,464.30 L571.30,438.60 L572.90,443.20 L574.20,449.80 L575.50,443.20 L578.10,448.50 L581.40,447.10 L584.70,449.10 L588.70,450.40 L594.60,451.10 L595.90,476.80 L597.20,460.30 L599.20,463.00 L601.90,453.70 L604.50,456.40 L607.10,457.70 L608.60,457.00 L613.90,458.00 L621.80,458.30 L623.10,463.00 L624.40,481.70 L625.80,465.60 L627.70,460.30 L632.30,460.30 L635.00,463.00 L637.60,461.40 L645.50,462.30 L650.80,460.60 L652.80,461.60 L653.70,470.20 L655.40,466.90 L657.40,467.60 L659.30,463.60 L664.00,466.20 L666.60,465.30 L670.50,467.60 L675.20,466.90" fill="none" stroke="#f8841a" stroke-width="1.8" stroke-linejoin="round" stroke-linecap="butt"/>
</g>
<rect x="536.50" y="405.50" width="145.30" height="149.90" fill="none" stroke="#464646" stroke-width="1.5"/>
<line x1="541.40" y1="555.40" x2="541.40" y2="558.00" stroke="#464646" stroke-width="1.0"/>
<text transform="translate(538.77,563.90) scale(1.3915,1)" font-size="6.8" font-weight="bold" fill="#111">0</text>
<line x1="574.98" y1="555.40" x2="574.98" y2="558.00" stroke="#464646" stroke-width="1.0"/>
<text transform="translate(569.71,563.90) scale(1.3836,1)" font-size="6.8" font-weight="bold" fill="#111">25</text>
<line x1="608.55" y1="555.40" x2="608.55" y2="558.00" stroke="#464646" stroke-width="1.0"/>
<text transform="translate(603.23,563.90) scale(1.4221,1)" font-size="6.8" font-weight="bold" fill="#111">50</text>
<line x1="642.12" y1="555.40" x2="642.12" y2="558.00" stroke="#464646" stroke-width="1.0"/>
<text transform="translate(636.83,563.90) scale(1.3840,1)" font-size="6.8" font-weight="bold" fill="#111">75</text>
<line x1="675.70" y1="555.40" x2="675.70" y2="558.00" stroke="#464646" stroke-width="1.0"/>
<text transform="translate(667.39,563.90) scale(1.4510,1)" font-size="6.8" font-weight="bold" fill="#111">100</text>
<line x1="533.90" y1="533.50" x2="536.50" y2="533.50" stroke="#464646" stroke-width="1.0"/>
<text transform="translate(508.91,535.95) scale(1.4698,1)" font-size="6.8" font-weight="bold" fill="#111">0.96</text>
<line x1="533.90" y1="503.12" x2="536.50" y2="503.12" stroke="#464646" stroke-width="1.0"/>
<text transform="translate(509.14,505.57) scale(1.4562,1)" font-size="6.8" font-weight="bold" fill="#111">0.97</text>
<line x1="533.90" y1="472.75" x2="536.50" y2="472.75" stroke="#464646" stroke-width="1.0"/>
<text transform="translate(508.96,475.20) scale(1.4624,1)" font-size="6.8" font-weight="bold" fill="#111">0.98</text>
<line x1="533.90" y1="442.38" x2="536.50" y2="442.38" stroke="#464646" stroke-width="1.0"/>
<text transform="translate(509.00,444.82) scale(1.4628,1)" font-size="6.8" font-weight="bold" fill="#111">0.99</text>
<line x1="533.90" y1="412.00" x2="536.50" y2="412.00" stroke="#464646" stroke-width="1.0"/>
<text transform="translate(509.16,414.45) scale(1.4542,1)" font-size="6.8" font-weight="bold" fill="#111">1.00</text>
<text transform="translate(568.26,401.30) scale(1.5043,1)" font-size="7.6" font-weight="bold" fill="#111">History of AUC</text>
<text transform="translate(591.55,571.50) scale(1.4533,1)" font-size="6.4" font-weight="bold" fill="#111">Epochs</text>
<rect x="598.00" y="534.30" width="79.5" height="18.0" rx="1.5" fill="#fff" fill-opacity="0.8" stroke="#e6e6e6" stroke-width="0.8"/>
<line x1="601.00" y1="538.90" x2="620.50" y2="538.90" stroke="#1f77b4" stroke-width="1.5"/>
<line x1="601.00" y1="547.10" x2="620.50" y2="547.10" stroke="#ff7f0e" stroke-width="1.5"/>
<text transform="translate(627.74,541.10) scale(1.6554,1)" font-size="6.4" font-weight="normal" fill="#111" stroke="#111" stroke-width="0.121">training</text>
<text transform="translate(627.85,549.30) scale(1.6331,1)" font-size="6.4" font-weight="normal" fill="#111" stroke="#111" stroke-width="0.122">validation</text>
<line x1="680.9" y1="78" x2="680.9" y2="102" stroke="#222" stroke-width="1.6" stroke-dasharray="3 1.2"/>
<line x1="331.7" y1="279" x2="331.7" y2="292" stroke="#222" stroke-width="1.4" stroke-dasharray="2.5 1"/>
<line x1="331.8" y1="475" x2="331.8" y2="487.5" stroke="#222" stroke-width="1.4" stroke-dasharray="2.5 1"/>
<text transform="translate(1.98,75.50) scale(1.0969,1)" font-size="16.2" font-weight="normal" fill="#111">DenseNet-121</text>
<text transform="translate(1.37,269.90) scale(1.1027,1)" font-size="16.2" font-weight="normal" fill="#111">DenseNet-121</text>
<text transform="translate(46.64,294.30) scale(1.0957,1)" font-size="17.5" font-weight="normal" fill="#111">+</text>
<text transform="translate(29.13,318.00) scale(1.0710,1)" font-size="16.2" font-weight="normal" fill="#111">CBAM</text>
<text transform="translate(1.77,420.70) scale(1.1066,1)" font-size="16.2" font-weight="normal" fill="#111">DenseNet-121</text>
<text transform="translate(46.75,444.90) scale(1.0839,1)" font-size="17.5" font-weight="normal" fill="#111">+</text>
<text transform="translate(29.04,468.90) scale(1.0665,1)" font-size="16.2" font-weight="normal" fill="#111">CBAM</text>
<text transform="translate(46.75,493.30) scale(1.0839,1)" font-size="17.5" font-weight="normal" fill="#111">+</text>
<text transform="translate(20.00,516.20) scale(1.0956,1)" font-size="16.2" font-weight="normal" fill="#111">Snapshot</text>
<text transform="translate(19.87,539.10) scale(1.1003,1)" font-size="16.2" font-weight="normal" fill="#111">Ensemble</text>
</svg></div></body></html>
